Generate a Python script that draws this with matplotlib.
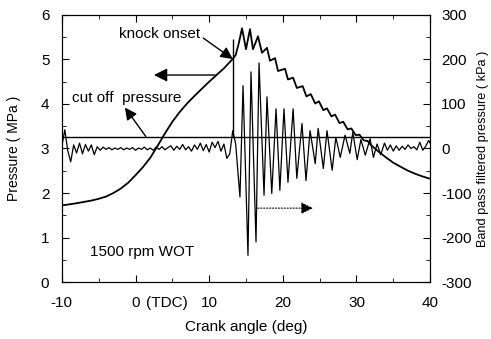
import numpy as np
import matplotlib
matplotlib.use("Agg")
import matplotlib.pyplot as plt
from matplotlib.ticker import MultipleLocator

plt.rcParams['font.family'] = ['Liberation Sans', 'DejaVu Sans']
plt.rcParams['axes.unicode_minus'] = False

# ---- data ----
# cylinder pressure (MPa) vs crank angle (deg)
p_crank = [-10, -8, -6, -5, -4, -3, -2, -1, 0, 1, 2, 3, 4, 5, 6, 7, 8, 9, 10, 11, 12,
           13.2, 13.6, 14.0, 14.46, 15.0, 15.54, 15.95, 16.63, 17.17, 17.85, 18.26,
           18.94, 19.35, 20.3, 20.7, 21.4, 21.9, 22.7, 23.2, 23.8, 24.4, 24.9, 25.5,
           26.0, 26.6, 27.1, 27.7, 28.2, 28.8, 29.3, 29.9, 30.4, 31.0, 31.5, 32.0,
           33.0, 34.0, 35.0, 36.0, 37.0, 38.0, 39.0, 40.0]
p_mpa = [1.72, 1.77, 1.83, 1.87, 1.92, 2.00, 2.10, 2.23, 2.40, 2.58, 2.79, 3.06,
         3.34, 3.60, 3.82, 4.01, 4.18, 4.34, 4.50, 4.65, 4.80,
         5.01, 5.10, 5.35, 5.70, 5.23, 5.68, 5.23, 5.52, 5.15, 5.26, 4.97,
         5.03, 4.74, 4.79, 4.55, 4.59, 4.36, 4.40, 4.17, 4.22, 4.01, 4.06, 3.86,
         3.90, 3.72, 3.76, 3.57, 3.60, 3.43, 3.45, 3.30, 3.31, 3.18, 3.17, 3.07,
         2.93, 2.80, 2.68, 2.59, 2.50, 2.43, 2.37, 2.32]

# band-pass filtered pressure (kPa): pre-knock noise sampled every 0.4 deg from -10
bp_pre_kpa = [5, 42, -5, -30, 8, -10, 12, -12, 9, -6, 8, -14, 4, -4, 3, -2, 2, -3,
              1, -2, 2, -3, 1, -2, 2, -4, 1, -2, 3, -3, 1, -4, 3, -2, 4, -3, 2, 6,
              -4, 5, -2, 9, -3, 4, -6, 8, -2, 12, -5, 9, -8, 14, 2, 16, -6, 10,
              -22, -12]
bp_pre_crank = np.arange(len(bp_pre_kpa)) * 0.4 - 10.0
# knock part
bp_knock_crank = [13.2, 13.6, 14.18, 14.6, 15.27, 15.68, 16.36, 16.77, 17.45, 17.85,
                  18.5, 19.08, 19.6, 20.16, 20.7, 21.4, 21.9, 22.6, 23.15, 23.7,
                  24.4, 24.8, 25.5, 26.0, 26.7, 27.2, 27.8, 28.45, 29.1, 29.5,
                  30.1, 30.6, 31.2, 31.85, 32.3, 32.8, 33.3, 33.8, 34.2, 34.6,
                  35.0, 35.4, 35.8, 36.2, 36.6, 37.0, 37.4, 37.8, 38.2, 38.6,
                  39.0, 39.4, 39.8, 40.0]
bp_knock_kpa = [40, 10, -109, 141, -240, 172, -210, 192, -105, 116,
                -101, 89, -94, 89, -76, 89, -67, 56, -72, 40,
                -34, 45, -45, 40, -49, 25, -20, 30, -11, 36,
                -25, 20, -15, 22, -20, 10, -14, 12, -4, 8,
                -6, 6, -4, 5, -2, 8, 0, 4, -3, 14,
                -4, 5, 18, 12]

cutoff_kpa = 25
knock_onset_deg = 13.2
onset_spike_kpa = 246

xticks = [-10, 0, 10, 20, 30, 40]
xticklabels = ['-10', '0', '10', '20', '30', '40']
yticks_left = [0, 1, 2, 3, 4, 5, 6]
yticks_right = [-300, -200, -100, 0, 100, 200, 300]

# ---- figure ----
fig = plt.figure(figsize=(4.91, 3.39), dpi=100)
ax = fig.add_axes([0.126, 0.168, 0.750, 0.788])
ax2 = ax.twinx()

bp_x = np.concatenate([bp_pre_crank, bp_knock_crank])
bp_y = np.concatenate([bp_pre_kpa, bp_knock_kpa])
ax2.plot(bp_x, bp_y, color='black', lw=0.9)
ax2.axhline(cutoff_kpa, color='black', lw=1.0)
ax2.vlines(knock_onset_deg, cutoff_kpa, onset_spike_kpa, color='black', lw=1.0)

ax.plot(p_crank, p_mpa, color='black', lw=1.3)

ax.set_xlim(-10, 40)
ax.set_ylim(0, 6)
ax2.set_ylim(-300, 300)

ax.set_xticks(xticks)
ax.set_xticklabels(xticklabels)
ax.set_yticks(yticks_left)
ax2.set_yticks(yticks_right)
ax.xaxis.set_minor_locator(MultipleLocator(5))
ax.yaxis.set_minor_locator(MultipleLocator(0.5))
ax2.yaxis.set_minor_locator(MultipleLocator(50))

for a in (ax, ax2):
    a.tick_params(which='major', direction='in', length=5, width=0.8, labelsize=11,
                  top=True)
    a.tick_params(which='minor', direction='in', length=3, width=0.6, top=True)
ax.tick_params(axis='y', which='both', right=False, pad=9)
ax.tick_params(axis='x', which='major', pad=10)
ax2.tick_params(axis='y', which='both', left=False, pad=8)

ax.set_xlabel('Crank angle (deg)', fontsize=11, labelpad=7)
ax.set_ylabel('Pressure ( MPa )', fontsize=10, labelpad=14)
ax2.set_ylabel('Band pass filtered pressure ( kPa )', fontsize=9.2, labelpad=4)

ax.annotate('(TDC)', xy=(0, 0), xycoords=('data', 'axes fraction'),
            xytext=(7.5, -10), textcoords='offset points', ha='left', va='top',
            fontsize=11)

ax.set_zorder(ax2.get_zorder() + 1)
ax.patch.set_visible(False)

# annotations
ax.text(3.3, 5.58, 'knock onset', fontsize=11, ha='center', va='center')
ax.annotate('', xy=(13.2, 5.01), xytext=(9.2, 5.48),
            arrowprops=dict(arrowstyle='-|>', color='black', lw=1.0,
                            mutation_scale=18, shrinkA=0, shrinkB=0))
ax.annotate('', xy=(2.5, 4.65), xytext=(10.8, 4.65),
            arrowprops=dict(arrowstyle='-|>', color='black', lw=1.0,
                            mutation_scale=20, shrinkA=0, shrinkB=0))
ax.text(-8.6, 4.14, 'cut off  pressure', fontsize=11, ha='left', va='center')
ax.annotate('', xy=(-1.44, 3.92), xytext=(1.4, 3.27),
            arrowprops=dict(arrowstyle='-|>', color='black', lw=1.0,
                            mutation_scale=18, shrinkA=0, shrinkB=0))
ax.annotate('', xy=(24.1, 1.66), xytext=(16.6, 1.66),
            arrowprops=dict(arrowstyle='-|>', color='black', lw=0.8, ls=':',
                            mutation_scale=18, shrinkA=0, shrinkB=0))
ax.text(-6.2, 0.67, '1500 rpm WOT', fontsize=11, ha='left', va='center')

fig.savefig('out.png', dpi=100)
